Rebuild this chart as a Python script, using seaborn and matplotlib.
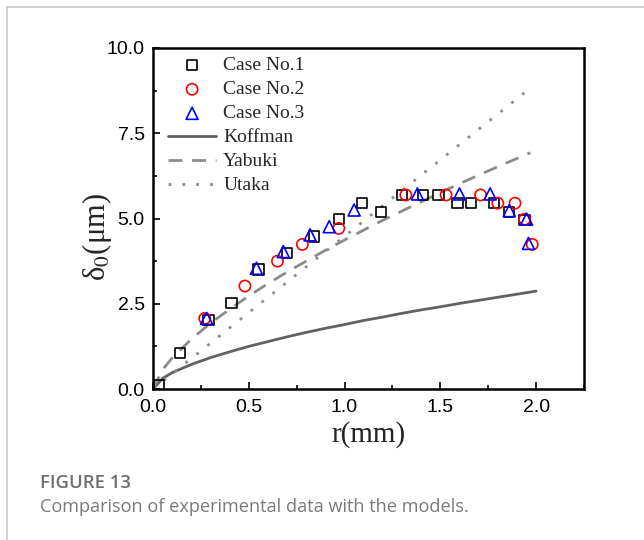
import matplotlib
matplotlib.use("Agg")
import matplotlib.pyplot as plt
from matplotlib.lines import Line2D
from matplotlib.ticker import MultipleLocator
import seaborn as sns

# Measured film thickness for the three cases
case1_r = [0.03, 0.14, 0.29, 0.41, 0.55, 0.70, 0.84, 0.97, 1.09, 1.19, 1.30, 1.41, 1.49, 1.59, 1.66, 1.78, 1.86, 1.94]
case1_d = [0.10, 1.06, 2.03, 2.52, 3.50, 3.98, 4.47, 4.98, 5.45, 5.20, 5.69, 5.69, 5.69, 5.45, 5.45, 5.45, 5.20, 4.95]

case2_r = [0.27, 0.48, 0.65, 0.78, 0.97, 1.32, 1.53, 1.71, 1.80, 1.89, 1.94, 1.98]
case2_d = [2.07, 3.02, 3.75, 4.24, 4.71, 5.69, 5.69, 5.69, 5.45, 5.45, 4.98, 4.24]

case3_r = [0.28, 0.54, 0.68, 0.82, 0.92, 1.05, 1.38, 1.60, 1.76, 1.86, 1.95, 1.96]
case3_d = [2.07, 3.54, 4.03, 4.52, 4.76, 5.25, 5.72, 5.72, 5.72, 5.23, 4.98, 4.27]

# Model predictions
model_r = [0.0, 0.05, 0.1, 0.2, 0.3, 0.4, 0.5, 0.6, 0.7, 0.8, 0.9, 1.0,
           1.1, 1.2, 1.3, 1.4, 1.5, 1.6, 1.7, 1.8, 1.9, 2.0]
koffman_d = [0.0, 0.31, 0.48, 0.72, 0.92, 1.09, 1.25, 1.39, 1.53, 1.66, 1.78, 1.89,
             2.01, 2.11, 2.22, 2.32, 2.41, 2.51, 2.60, 2.69, 2.78, 2.87]

yabuki_r = [0.0, 0.05, 0.1, 0.2, 0.3, 0.4, 0.5, 0.6, 0.7, 0.8, 0.9, 1.0,
            1.1, 1.2, 1.3, 1.4, 1.5, 1.6, 1.7, 1.8, 1.9, 1.97]
yabuki_d = [0.0, 0.57, 0.91, 1.46, 1.93, 2.34, 2.73, 3.09, 3.43, 3.75, 4.07, 4.37,
            4.66, 4.95, 5.22, 5.49, 5.76, 6.02, 6.27, 6.52, 6.76, 6.93]

utaka_r = [0.0, 1.96]
utaka_d = [0.0, 8.78]

x_ticks = [0.0, 0.5, 1.0, 1.5, 2.0]
y_ticks = [0.0, 2.5, 5.0, 7.5, 10.0]

sns.set_theme(style="ticks")
plt.rcParams["font.family"] = ["Liberation Sans", "DejaVu Sans"]
plt.rcParams["mathtext.fontset"] = "stix"

serif = ["Liberation Serif", "DejaVu Serif"]

fig = plt.figure(figsize=(6.44, 5.40), dpi=100)
ax = fig.add_axes([153 / 644, 1 - 389 / 540, 431 / 644, 341 / 540])

sns.lineplot(x=model_r, y=koffman_d, ax=ax, color="#505050", lw=2.0,
             linestyle="-", label="Koffman", alpha=0.9)
sns.lineplot(x=yabuki_r, y=yabuki_d, ax=ax, color="#8c8c8c", lw=2.0,
             linestyle=(0, (5, 3.5)), label="Yabuki")
sns.lineplot(x=utaka_r, y=utaka_d, ax=ax, color="#8c8c8c", lw=2.0,
             linestyle=(0, (1, 4)), label="Utaka")

sns.scatterplot(x=case1_r, y=case1_d, ax=ax, marker="s", s=55,
                facecolor="none", edgecolor="black", linewidth=1.2,
                label="Case No.1", zorder=3)
sns.scatterplot(x=case2_r, y=case2_d, ax=ax, marker="o", s=65,
                facecolor="none", edgecolor="#ff0000", linewidth=1.2,
                label="Case No.2", zorder=3)
sns.scatterplot(x=case3_r, y=case3_d, ax=ax, marker="^", s=75,
                facecolor="none", edgecolor="#0000ff", linewidth=1.2,
                label="Case No.3", zorder=3)

ax.set_xlim(0, 2.25)
ax.set_ylim(0, 10)
ax.set_xticks(x_ticks)
ax.set_yticks(y_ticks)
ax.set_xticklabels([f"{v:.1f}" for v in x_ticks])
ax.set_yticklabels([f"{v:.1f}" for v in y_ticks])
ax.xaxis.set_minor_locator(MultipleLocator(0.25))
ax.yaxis.set_minor_locator(MultipleLocator(1.25))
ax.tick_params(which="both", direction="in", top=False, right=False,
               width=1.2, colors="black", labelsize=14)
ax.tick_params(which="major", length=5)
ax.tick_params(axis="x", which="major", pad=7)
ax.tick_params(axis="y", which="major", pad=6)
ax.tick_params(which="minor", length=3)
for sp in ax.spines.values():
    sp.set_linewidth(1.8)
    sp.set_color("black")
    sp.set_visible(True)

ax.set_xlabel("r(mm)", fontfamily=serif, fontsize=21)
ax.xaxis.set_label_coords(0.5, -0.095)
ax.set_ylabel(r"δ$_0$(μm)", fontfamily=serif, fontsize=22)
ax.yaxis.set_label_coords(-0.09, 0.445)

handles, labels = ax.get_legend_handles_labels()
order = ["Case No.1", "Case No.2", "Case No.3", "Koffman", "Yabuki", "Utaka"]
hmap = dict(zip(labels, handles))
leg = ax.legend([hmap[k] for k in order], order, loc="upper left",
                bbox_to_anchor=(0.014, 1.0),
                frameon=False, prop={"family": serif, "size": 14},
                handlelength=2.5, handletextpad=0.35, labelspacing=0.33,
                borderpad=0.1, borderaxespad=0.35)

# Caption block
fig.text(40 / 644, 1 - 483 / 540, "FIGURE 13", fontfamily=["Open Sans", "DejaVu Sans"],
         fontsize=13.3, fontweight="semibold", color="#6e6e6e", va="center")
fig.text(40 / 644, 1 - 507 / 540, "Comparison of experimental data with the models.",
         fontfamily=["Open Sans", "DejaVu Sans"], fontsize=13.1, color="#7a7a7a",
         va="center")

# Page frame lines along the top and left edge
fig.add_artist(Line2D([7 / 644, 7 / 644], [0, 1 - 7 / 540], transform=fig.transFigure,
                      color="#c8c8c8", lw=1.2))
fig.add_artist(Line2D([7 / 644, 1], [1 - 7 / 540, 1 - 7 / 540], transform=fig.transFigure,
                      color="#c8c8c8", lw=1.2))

fig.savefig("out.png", dpi=100)
